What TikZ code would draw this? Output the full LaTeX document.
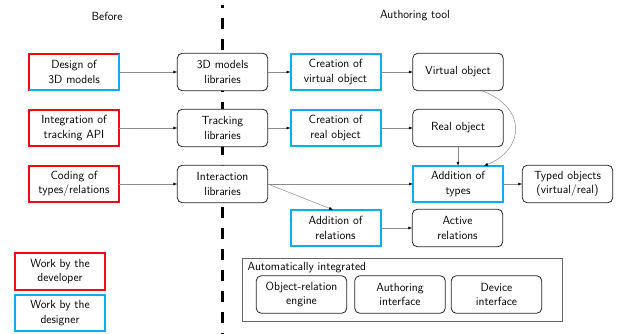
\documentclass[tikz,border=0pt]{standalone}
\usetikzlibrary{arrows.meta}
\definecolor{myred}{RGB}{245,10,20}
\definecolor{myblue}{RGB}{10,175,235}
\begin{document}
\begin{tikzpicture}[x=1pt,y=-1pt,
  font=\sffamily\fontsize{11.8pt}{14.3pt}\selectfont,
  base/.style={align=center, fill=white, inner sep=1pt, outer sep=0pt},
  devbox/.style={base, draw=myred, line width=2pt, minimum width=90pt, minimum height=36.5pt},
  desbox/.style={base, draw=myblue, line width=2pt, minimum width=90pt, minimum height=36.5pt},
  libbox/.style={base, draw=black!85, line width=0.8pt, rounded corners=5pt, minimum width=90.5pt, minimum height=37.5pt},
  conn/.style={draw=black!45, line width=0.5pt, -{Latex[black,length=4pt,width=3pt]}},
  sepline/.style={line width=3pt, dash pattern=on 11pt off 10pt, dash phase=8pt}
]
\useasboundingbox (0,0) rectangle (621,334);
\coordinate (septop) at (222.7,5);
\coordinate (sepbot) at (222.7,334);
\draw[sepline] (septop) -- (sepbot);

\node (before) at (107,16) {Before};
\node (authoring) at (415,16) {Authoring tool};

\node[devbox] (design) at (74,72) {Design of\\3D models};
\draw[myblue, line width=2pt] (design.north east) -- (design.south east) -- (design.south west);
\node[libbox] (lib3d) at (222.5,72) {3D models\\libraries};
\node[desbox] (cvirt) at (335.5,72) {Creation of\\virtual object};
\node[libbox] (vobj) at (458,72) {Virtual object};

\node[devbox] (integ) at (74,128) {Integration of\\tracking API};
\node[libbox] (track) at (222.5,128) {Tracking\\libraries};
\node[desbox] (creal) at (335.5,128) {Creation of\\real object};
\node[libbox] (robj) at (458,128) {Real object};

\node[devbox] (coding) at (74,184) {Coding of\\types/relations};
\node[libbox] (inter) at (222.5,184) {Interaction\\libraries};
\node[desbox] (types) at (458,184) {Addition of\\types};
\node[libbox] (typed) at (567.5,184) {Typed objects\\(virtual/real)};

\node[desbox] (rel) at (335.5,228) {Addition of\\relations};
\node[libbox] (active) at (457.5,228) {Active\\relations};

\node[draw=black!60, line width=0.8pt, minimum width=320pt, minimum height=63.5pt, outer sep=0pt] (autobox) at (402.5,290) {};
\node[anchor=north west, inner sep=0pt] (autolabel) at ([shift={(5,3.5)}]autobox.north west) {Automatically integrated};
\node[libbox] (eng) at (301.5,294.5) {Object-relation\\engine};
\node[libbox] (authif) at (400,294.5) {Authoring\\interface};
\node[libbox] (devif) at (496.5,294.5) {Device\\interface};

\node[devbox] (legdev) at (60,271.5) {Work by the\\developer};
\node[desbox] (legdes) at (60,313) {Work by the\\designer};

\draw[conn] (design) -- (lib3d);
\draw[conn] (lib3d) -- (cvirt);
\draw[conn] (cvirt) -- (vobj);
\draw[conn] (integ) -- (track);
\draw[conn] (track) -- (creal);
\draw[conn] (creal) -- (robj);
\draw[conn] (coding) -- (inter);
\draw[conn] (inter.east) -- (types.west);
\draw[conn] (inter.east) -- ([xshift=-2.5pt]rel.north);
\draw[conn] (rel) -- (active);
\draw[conn] (types) -- (typed);
\draw[conn] (robj) -- (types);
\draw[conn] ([xshift=24pt]vobj.south) .. controls (528,108) and (524,150) .. ([xshift=26pt]types.north);
\end{tikzpicture}
\end{document}
